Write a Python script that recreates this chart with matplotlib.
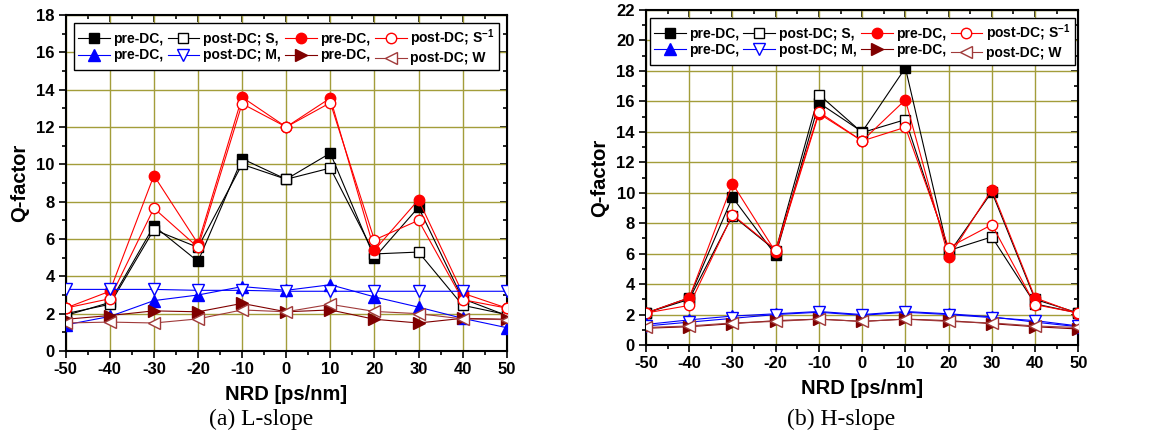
import numpy as np
import matplotlib
matplotlib.use("Agg")
import matplotlib.pyplot as plt
from matplotlib.ticker import MultipleLocator

plt.rcParams['font.family'] = ['Liberation Sans', 'DejaVu Sans']
plt.rcParams['mathtext.fontset'] = 'custom'
plt.rcParams['mathtext.rm'] = 'Liberation Sans'
plt.rcParams['mathtext.bf'] = 'Liberation Sans:bold'
plt.rcParams['axes.unicode_minus'] = False

# NRD values [ps/nm]
nrd = [-50, -40, -30, -20, -10, 0, 10, 20, 30, 40, 50]

# (a) L-slope
L_pre_S = [1.9, 2.6, 6.7, 4.8, 10.3, 9.2, 10.6, 5.0, 7.7, 2.8, 1.9]
L_post_S = [2.0, 2.5, 6.5, 5.55, 10.0, 9.2, 9.8, 5.2, 5.3, 2.45, 1.95]
L_pre_Sinv = [2.3, 3.2, 9.4, 5.75, 13.6, 12.0, 13.55, 5.4, 8.1, 3.1, 2.3]
L_post_Sinv = [2.3, 2.8, 7.65, 5.55, 13.25, 12.0, 13.3, 5.95, 7.0, 2.75, 2.3]
L_pre_M = [1.4, 1.85, 2.7, 3.0, 3.45, 3.25, 3.55, 2.9, 2.35, 1.75, 1.25]
L_post_M = [3.3, 3.3, 3.3, 3.25, 3.25, 3.2, 3.2, 3.2, 3.2, 3.2, 3.2]
L_pre_W = [1.7, 1.9, 2.15, 2.1, 2.55, 2.1, 2.2, 1.7, 1.5, 1.75, 1.7]
L_post_W = [1.5, 1.55, 1.5, 1.72, 2.2, 2.1, 2.5, 2.12, 2.0, 1.72, 1.68]

# (b) H-slope
H_pre_S = [2.1, 3.1, 9.7, 5.9, 15.9, 14.0, 18.2, 6.0, 10.05, 3.0, 2.1]
H_post_S = [2.1, 3.0, 8.5, 6.2, 16.45, 13.95, 14.8, 6.2, 7.1, 2.7, 2.1]
H_pre_Sinv = [2.1, 3.1, 10.6, 6.1, 15.2, 13.4, 16.1, 5.75, 10.2, 3.1, 2.05]
H_post_Sinv = [2.1, 2.6, 8.55, 6.25, 15.3, 13.4, 14.3, 6.4, 7.9, 2.65, 2.1]
H_pre_M = [1.35, 1.65, 1.9, 2.05, 2.2, 2.0, 2.2, 2.05, 1.85, 1.5, 1.2]
H_post_M = [1.25, 1.5, 1.75, 2.0, 2.15, 1.95, 2.15, 2.0, 1.8, 1.6, 1.25]
H_pre_W = [1.1, 1.2, 1.4, 1.6, 1.7, 1.55, 1.7, 1.6, 1.4, 1.2, 1.05]
H_post_W = [1.15, 1.25, 1.45, 1.55, 1.7, 1.55, 1.7, 1.55, 1.45, 1.25, 1.15]

labels = ['pre-DC,', 'post-DC; S,', 'pre-DC,', r'post-DC; S$^{\mathbf{-1}}$',
          'pre-DC,', 'post-DC; M,', 'pre-DC,', 'post-DC; W']

# color, marker, filled, size
styles = [('black', 's', True, 6.5), ('black', 's', False, 6.5),
          ('red', 'o', True, 7.5), ('red', 'o', False, 7.5),
          ('blue', '^', True, 8), ('blue', 'v', False, 8),
          ('#800000', '>', True, 8), ('#a03a3a', '<', False, 8)]

grid_col = '#a39d3a'


def draw(ax, series, ymax, title_text, cap_x):
    handles = []
    for y, (c, m, filled, ms) in zip(series, styles):
        h, = ax.plot(nrd, y, color=c, lw=0.8, marker=m, ms=ms,
                     mfc=c if filled else 'white', mec=c, mew=1.0, zorder=3)
        handles.append(h)
    ax.set_xlim(-50, 50)
    ax.set_ylim(0, ymax)
    ax.xaxis.set_major_locator(MultipleLocator(10))
    ax.xaxis.set_minor_locator(MultipleLocator(5))
    ax.yaxis.set_major_locator(MultipleLocator(2))
    ax.yaxis.set_minor_locator(MultipleLocator(1))
    ax.grid(True, which='major', color=grid_col, lw=1.0)
    ax.set_axisbelow(True)
    ax.tick_params(which='both', direction='out', width=1.2, labelsize=12, pad=3)
    ax.tick_params(which='major', length=5)
    ax.tick_params(which='minor', length=3)
    for lab in ax.get_xticklabels() + ax.get_yticklabels():
        lab.set_fontweight('bold')
    for s in ax.spines.values():
        s.set_linewidth(1.5)
    # mirrored inward ticks on top and right
    top = ax.secondary_xaxis('top')
    top.xaxis.set_major_locator(MultipleLocator(10))
    top.xaxis.set_minor_locator(MultipleLocator(5))
    top.tick_params(which='both', direction='in', width=1.2, labeltop=False)
    top.tick_params(which='major', length=5)
    top.tick_params(which='minor', length=3)
    right = ax.secondary_yaxis('right')
    right.yaxis.set_major_locator(MultipleLocator(2))
    right.yaxis.set_minor_locator(MultipleLocator(1))
    right.tick_params(which='both', direction='in', width=1.2, labelright=False)
    right.tick_params(which='major', length=5)
    right.tick_params(which='minor', length=3)
    ax.set_xlabel('NRD [ps/nm]', fontsize=14.5, fontweight='bold', labelpad=6)
    ax.set_ylabel('Q-factor', fontsize=14.5, fontweight='bold', labelpad=5)
    order = [0, 4, 1, 5, 2, 6, 3, 7]
    leg = ax.legend([handles[i] for i in order], [labels[i] for i in order],
                    ncol=4, loc='upper center', bbox_to_anchor=(0.5, 0.985),
                    prop={'weight': 'bold', 'size': 10}, frameon=True,
                    fancybox=False, edgecolor='black', handlelength=2.3,
                    columnspacing=0.3, handletextpad=0.25, labelspacing=0.2,
                    borderpad=0.3, borderaxespad=0.2, framealpha=1)
    leg.get_frame().set_linewidth(1.0)
    leg.set_zorder(5)
    fig.text(cap_x, 1 - 419 / 436, title_text, family='Liberation Serif',
             fontsize=17, ha='center', va='center')


fig = plt.figure(figsize=(11.49, 4.36), dpi=100)
ax1 = fig.add_axes([65.7 / 1149, 1 - 351 / 436, 441 / 1149, 336 / 436])
ax2 = fig.add_axes([646 / 1149, 1 - 345 / 436, 432.3 / 1149, 335 / 436])

draw(ax1, [L_pre_S, L_post_S, L_pre_Sinv, L_post_Sinv,
           L_pre_M, L_post_M, L_pre_W, L_post_W], 18, '(a) L-slope', 261 / 1149)
draw(ax2, [H_pre_S, H_post_S, H_pre_Sinv, H_post_Sinv,
           H_pre_M, H_post_M, H_pre_W, H_post_W], 22, '(b) H-slope', 841 / 1149)

fig.savefig('out.png', dpi=100)
